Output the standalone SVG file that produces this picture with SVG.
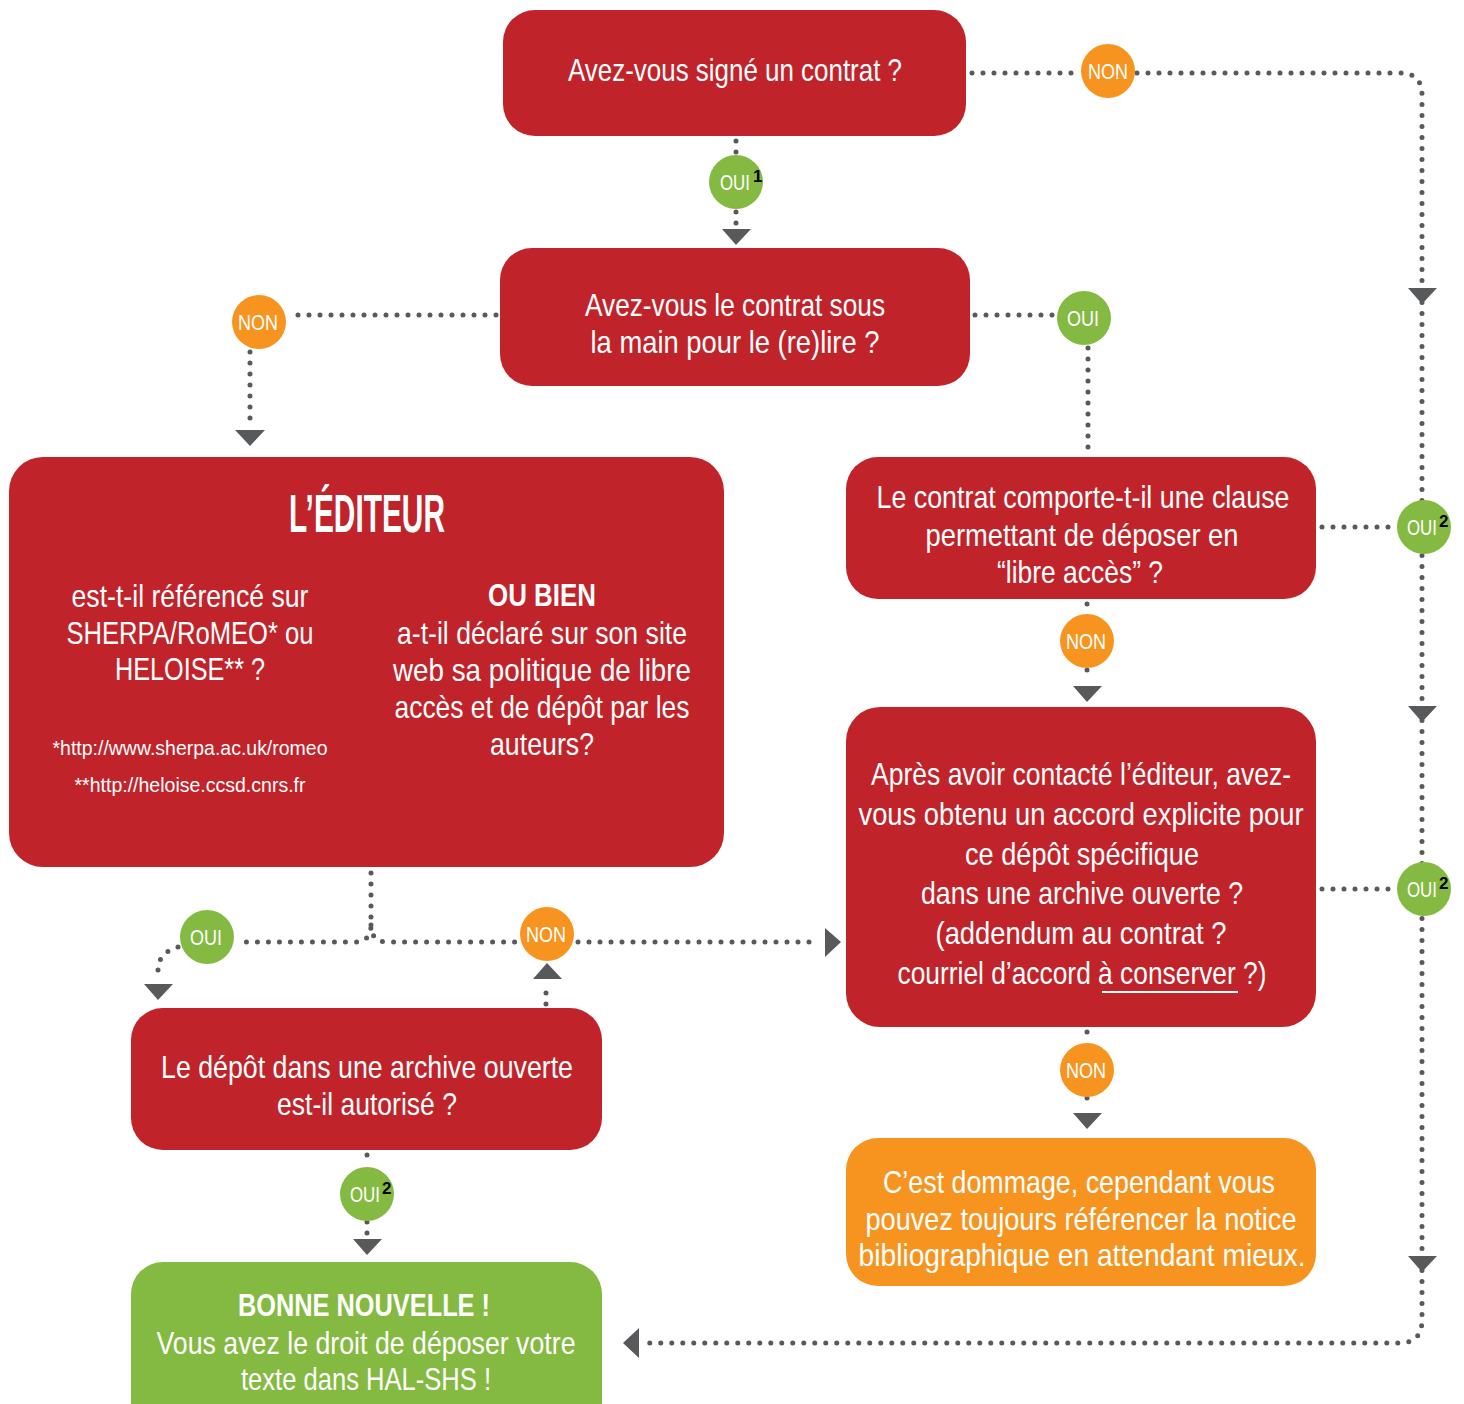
<svg xmlns="http://www.w3.org/2000/svg" width="1464" height="1404" viewBox="0 0 1464 1404">
<style>
.red{fill:#C1232A}
.grn{fill:#84BA41}
.org{fill:#F6941F}
.t{font-family:"Liberation Sans",Arial,sans-serif;fill:#fff;text-anchor:middle;font-size:32px}
.b{font-weight:bold}
.fn{font-size:21px}
.bt{font-family:"Liberation Sans",Arial,sans-serif;fill:#fff;text-anchor:middle;font-size:22px}
.bs{font-family:"Liberation Sans",Arial,sans-serif;fill:#fff;text-anchor:start;font-size:22px}
.sup{fill:#000;font-weight:bold;font-size:17px}
.dot{fill:none;stroke:#58595B;stroke-width:5;stroke-linecap:round;stroke-dasharray:0 11}
.arr{fill:#58595B}
</style>
<rect width="1464" height="1404" fill="#fff"/>

<g id="connectors">
<path class="dot" d="M736 141 L736 156"/>
<path class="dot" d="M736 212 L736 224"/>
<polygon class="arr" points="722,229 751,229 736,245"/>
<path class="dot" d="M496 315 L290 315"/>
<path class="dot" d="M250 352 L250 424"/>
<polygon class="arr" points="235,430 265,430 250,446"/>
<path class="dot" d="M975 315 L1056 315"/>
<path class="dot" d="M1088 348 L1088 451"/>
<path class="dot" d="M1087 604 L1087 614"/>
<path class="dot" d="M1087 670 L1087 681"/>
<polygon class="arr" points="1073,686 1102,686 1087,702"/>
<path class="dot" d="M1087 1032 L1087 1043"/>
<path class="dot" d="M1087 1098 L1087 1108"/>
<polygon class="arr" points="1073,1113 1102,1113 1087,1129"/>
<path class="dot" d="M972 73 L1080 73"/>
<path class="dot" d="M1137 73 L1400 73 Q1422 73 1422 95 L1422 1320 Q1422 1343 1400 1343 L646 1343"/>
<polygon class="arr" points="1408,288 1437,288 1422,304"/>
<polygon class="arr" points="1408,706 1437,706 1422,722"/>
<polygon class="arr" points="1408,1256 1437,1256 1422,1272"/>
<polygon class="arr" points="639,1328 639,1358 623,1343"/>
<path class="dot" d="M1322 527 L1395 527"/>
<path class="dot" d="M1322 889 L1395 889"/>
<path class="dot" d="M371 873 L371 925 Q371 942 354 942 L240 942"/>
<path class="dot" d="M371 925 Q371 942 388 942 L518 942"/>
<path class="dot" d="M578 942 L818 942"/>
<polygon class="arr" points="825,928 825,957 841,942"/>
<path class="dot" d="M178 947 Q158 953 158 970 L158 980"/>
<polygon class="arr" points="144,984 173,984 158,1000"/>
<path class="dot" d="M546 1004 L546 985"/>
<polygon class="arr" points="533,979 562,979 547,963"/>
<path class="dot" d="M367 1155 L367 1166"/>
<path class="dot" d="M367 1222 L367 1234"/>
<polygon class="arr" points="353,1239 382,1239 367,1255"/>
</g>

<g id="q1">
<rect class="red" x="503" y="10" width="463" height="126" rx="32"/>
<text class="t" x="735" y="81" textLength="334" lengthAdjust="spacingAndGlyphs">Avez-vous signé un contrat ?</text>
</g>

<g id="q2">
<rect class="red" x="500" y="248" width="470" height="138" rx="32"/>
<text class="t" x="735" y="316" textLength="300" lengthAdjust="spacingAndGlyphs">Avez-vous le contrat sous</text>
<text class="t" x="735" y="353" textLength="289" lengthAdjust="spacingAndGlyphs">la main pour le (re)lire ?</text>
</g>

<g id="editeur">
<rect class="red" x="9" y="457" width="715" height="410" rx="34"/>
<text class="t b" x="367" y="532" style="font-size:54px" textLength="156" lengthAdjust="spacingAndGlyphs">L’ÉDITEUR</text>
<text class="t" x="190" y="607" textLength="237" lengthAdjust="spacingAndGlyphs">est-t-il référencé sur</text>
<text class="t" x="190" y="644" textLength="247" lengthAdjust="spacingAndGlyphs">SHERPA/RoMEO* ou</text>
<text class="t" x="190" y="680" textLength="150" lengthAdjust="spacingAndGlyphs">HELOISE** ?</text>
<text class="t fn" x="190" y="755" textLength="275" lengthAdjust="spacingAndGlyphs">*http://www.sherpa.ac.uk/romeo</text>
<text class="t fn" x="190" y="792" textLength="231" lengthAdjust="spacingAndGlyphs">**http://heloise.ccsd.cnrs.fr</text>
<text class="t b" x="542" y="606" textLength="108" lengthAdjust="spacingAndGlyphs">OU BIEN</text>
<text class="t" x="542" y="644" textLength="290" lengthAdjust="spacingAndGlyphs">a-t-il déclaré sur son site</text>
<text class="t" x="542" y="681" textLength="298" lengthAdjust="spacingAndGlyphs">web sa politique de libre</text>
<text class="t" x="542" y="718" textLength="295" lengthAdjust="spacingAndGlyphs">accès et de dépôt par les</text>
<text class="t" x="542" y="755" textLength="104" lengthAdjust="spacingAndGlyphs">auteurs?</text>
</g>

<g id="clause">
<rect class="red" x="846" y="457" width="470" height="142" rx="32"/>
<text class="t" x="1083" y="508" textLength="413" lengthAdjust="spacingAndGlyphs">Le contrat comporte-t-il une clause</text>
<text class="t" x="1082" y="546" textLength="313" lengthAdjust="spacingAndGlyphs">permettant de déposer en</text>
<text class="t" x="1080" y="583" textLength="166" lengthAdjust="spacingAndGlyphs">“libre accès” ?</text>
</g>

<g id="accord">
<rect class="red" x="846" y="707" width="470" height="320" rx="34"/>
<text class="t" x="1081" y="785" textLength="420" lengthAdjust="spacingAndGlyphs">Après avoir contacté l’éditeur, avez-</text>
<text class="t" x="1081" y="825" textLength="445" lengthAdjust="spacingAndGlyphs">vous obtenu un accord explicite pour</text>
<text class="t" x="1082" y="865" textLength="234" lengthAdjust="spacingAndGlyphs">ce dépôt spécifique</text>
<text class="t" x="1082" y="904" textLength="322" lengthAdjust="spacingAndGlyphs">dans une archive ouverte ?</text>
<text class="t" x="1081" y="944" textLength="291" lengthAdjust="spacingAndGlyphs">(addendum au contrat ?</text>
<text class="t" x="1082" y="984" textLength="369" lengthAdjust="spacingAndGlyphs">courriel d’accord à conserver ?)</text>
<line x1="1102" y1="992" x2="1238" y2="992" stroke="#fff" stroke-width="2"/>
</g>

<g id="dommage">
<rect class="org" x="846" y="1138" width="470" height="148" rx="32"/>
<text class="t" x="1079" y="1193" textLength="392" lengthAdjust="spacingAndGlyphs">C’est dommage, cependant vous</text>
<text class="t" x="1081" y="1230" textLength="431" lengthAdjust="spacingAndGlyphs">pouvez toujours référencer la notice</text>
<text class="t" x="1082" y="1266" textLength="447" lengthAdjust="spacingAndGlyphs">bibliographique en attendant mieux.</text>
</g>

<g id="depot">
<rect class="red" x="131" y="1008" width="471" height="142" rx="32"/>
<text class="t" x="367" y="1078" textLength="412" lengthAdjust="spacingAndGlyphs">Le dépôt dans une archive ouverte</text>
<text class="t" x="367" y="1115" textLength="180" lengthAdjust="spacingAndGlyphs">est-il autorisé ?</text>
</g>

<g id="bonne">
<rect class="grn" x="131" y="1262" width="471" height="180" rx="32"/>
<text class="t b" x="364" y="1316" textLength="252" lengthAdjust="spacingAndGlyphs">BONNE NOUVELLE !</text>
<text class="t" x="366" y="1354" textLength="419" lengthAdjust="spacingAndGlyphs">Vous avez le droit de déposer votre</text>
<text class="t" x="366" y="1390" textLength="250" lengthAdjust="spacingAndGlyphs">texte dans HAL-SHS !</text>
</g>

<g id="b-oui1">
<circle class="grn" cx="736" cy="182" r="27"/>
<text class="bs" x="720" y="190"><tspan textLength="30" lengthAdjust="spacingAndGlyphs">OUI</tspan><tspan class="sup" dx="3" dy="-8">1</tspan></text>
</g>
<g id="b-non-top">
<circle class="org" cx="1108" cy="71" r="27"/>
<text class="bt" x="1108" y="79" textLength="40" lengthAdjust="spacingAndGlyphs">NON</text>
</g>
<g id="b-non-left">
<circle class="org" cx="259" cy="322" r="27"/>
<text class="bt" x="258" y="330" textLength="40" lengthAdjust="spacingAndGlyphs">NON</text>
</g>
<g id="b-oui-q2">
<circle class="grn" cx="1084" cy="318" r="27"/>
<text class="bt" x="1083" y="326" textLength="32" lengthAdjust="spacingAndGlyphs">OUI</text>
</g>
<g id="b-oui2-a">
<circle class="grn" cx="1424" cy="527" r="27"/>
<text class="bs" x="1407" y="535"><tspan textLength="30" lengthAdjust="spacingAndGlyphs">OUI</tspan><tspan class="sup" dx="2" dy="-8">2</tspan></text>
</g>
<g id="b-non-clause">
<circle class="org" cx="1087" cy="641" r="27"/>
<text class="bt" x="1086" y="649" textLength="40" lengthAdjust="spacingAndGlyphs">NON</text>
</g>
<g id="b-oui2-b">
<circle class="grn" cx="1424" cy="889" r="27"/>
<text class="bs" x="1407" y="897"><tspan textLength="30" lengthAdjust="spacingAndGlyphs">OUI</tspan><tspan class="sup" dx="2" dy="-8">2</tspan></text>
</g>
<g id="b-non-accord">
<circle class="org" cx="1087" cy="1070" r="27"/>
<text class="bt" x="1086" y="1078" textLength="40" lengthAdjust="spacingAndGlyphs">NON</text>
</g>
<g id="b-oui-editeur">
<circle class="grn" cx="207" cy="937" r="27"/>
<text class="bt" x="206" y="945" textLength="32" lengthAdjust="spacingAndGlyphs">OUI</text>
</g>
<g id="b-non-editeur">
<circle class="org" cx="547" cy="934" r="27"/>
<text class="bt" x="546" y="942" textLength="40" lengthAdjust="spacingAndGlyphs">NON</text>
</g>
<g id="b-oui2-depot">
<circle class="grn" cx="367" cy="1194" r="27"/>
<text class="bs" x="350" y="1202"><tspan textLength="30" lengthAdjust="spacingAndGlyphs">OUI</tspan><tspan class="sup" dx="2" dy="-8">2</tspan></text>
</g>
</svg>
